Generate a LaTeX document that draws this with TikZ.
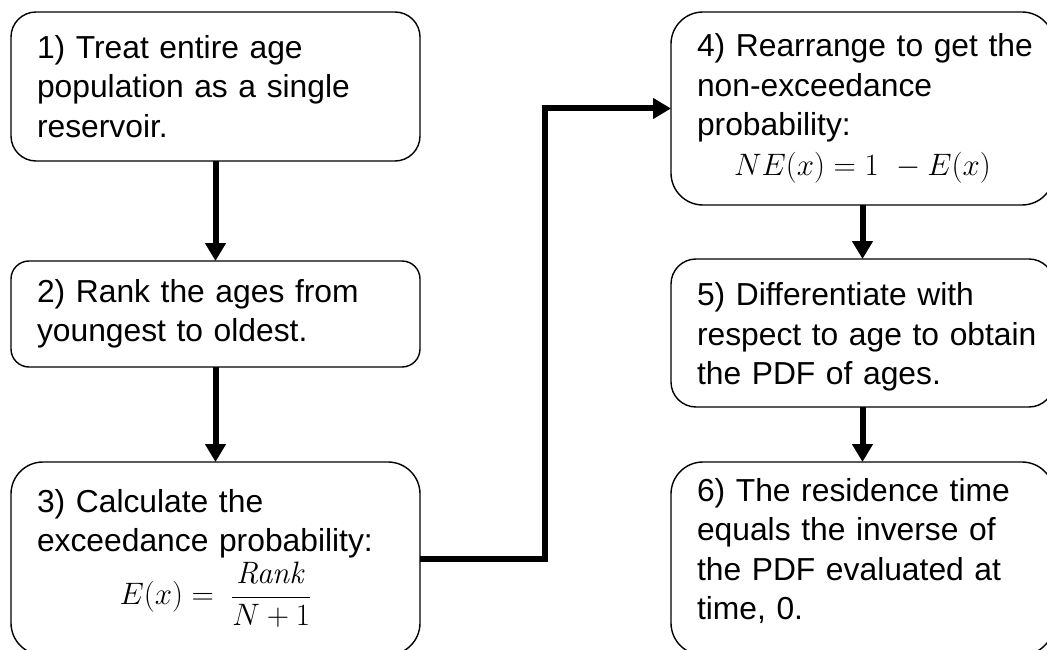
\RequirePackage{fix-cm}
\documentclass[tikz,border=0pt]{standalone}
\usepackage[no-math]{fontspec}
\setmainfont{Liberation Sans}
\usetikzlibrary{arrows.meta}
% a centred display formula on its own line inside a step box
\newcommand{\formulaline}[1]{\makebox[\dimexpr\linewidth-52pt\relax]{\fontsize{31}{37}\selectfont$\displaystyle #1$}}
\begin{document}
\begin{tikzpicture}[x=1pt,y=-1pt,
  stepbox/.style={draw=black, line width=1.4pt, fill=white, rectangle,
    anchor=north west, outer sep=0pt, inner xsep=0pt, inner ysep=0pt,
    align=left, font=\fontsize{31.8}{39.5}\selectfont,
    execute at begin node={\leftskip=26pt\relax\hyphenpenalty=10000\relax}},
  leftcol/.style={text width=409pt},
  rightcol/.style={text width=383pt},
  flow/.style={line width=6pt, -{Triangle[width=20pt,length=18pt]}}
]
\useasboundingbox (0,0) rectangle (1047,650);
\fill[white] (0,0) rectangle (1047,650);

% left column
\node[stepbox, leftcol, rounded corners=25pt, minimum height=149pt] (b1) at (11,12)
  {1) Treat entire age\\population as a single\\reservoir.};
\node[stepbox, leftcol, rounded corners=18pt, minimum height=106pt] (b2) at (11,261)
  {2) Rank the ages from\\youngest to oldest.};
\node[stepbox, leftcol, rounded corners=32pt, minimum height=193pt] (b3) at (11,462)
  {3) Calculate the\\exceedance probability:\\[3pt]\formulaline{E(x) =\; \frac{\mathit{Rank}}{N+1}}};

% right column
\node[stepbox, rightcol, rounded corners=32pt, minimum height=193pt] (b4) at (671,12)
  {4) Rearrange to get the\\non-exceedance\\probability:\\\formulaline{NE(x) = 1\ - E(x)}};
\node[stepbox, rightcol, rounded corners=25pt, minimum height=148pt] (b5) at (671,259)
  {\rule{0pt}{31pt}5) Differentiate with\\respect to age to obtain\\the PDF of ages.};
\node[stepbox, rightcol, rounded corners=32pt, minimum height=193pt] (b6) at (671,462)
  {6) The residence time\\equals the inverse of\\the PDF evaluated at\\time, 0.\rule[-19pt]{0pt}{1pt}};

% connectors
\draw[flow] (b1.south) -- (b2.north);
\draw[flow] (b2.south) -- (b3.north);
\draw[flow] (b3.east) -- ++(125,0) |- (b4.west);
\draw[flow] (b4.south) -- (b5.north);
\draw[flow] (b5.south) -- (b6.north);
\end{tikzpicture}
\end{document}
